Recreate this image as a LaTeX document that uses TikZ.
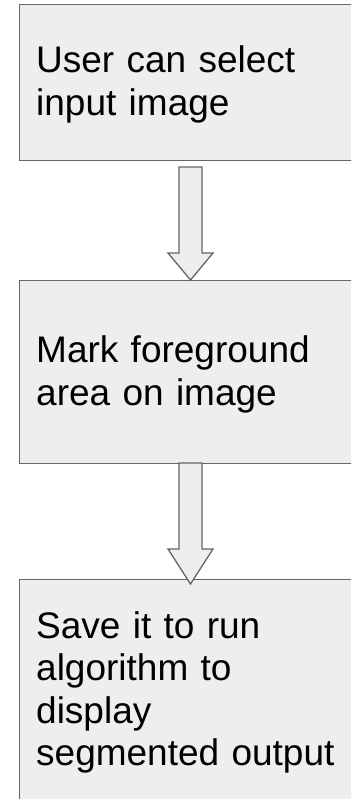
\documentclass[tikz,border=0pt]{standalone}
\usepackage{fontspec}
\setmainfont{Liberation Sans}
\usetikzlibrary{calc}
\definecolor{boxfill}{HTML}{EEEEEE}
\definecolor{boxline}{HTML}{666666}
\tikzset{
  box/.style={draw=boxline, fill=boxfill, line width=1.3pt, inner sep=0pt, anchor=north west, minimum width=343pt},
  label/.style={anchor=base west, inner sep=0pt, text width=310pt, align=left, font=\fontsize{37}{42.5}\selectfont},
  blockarrow/.style={draw=boxline, fill=boxfill, line width=1.3pt, line join=miter}
}
\begin{document}
\begin{tikzpicture}[x=1pt,y=-1pt]
\useasboundingbox (0,0) rectangle (351,799);
\clip (0,0) rectangle (351,799);
\fill[white] (0,0) rectangle (351,799);
% boxes
\node[box, minimum height=156pt] (b1) at (19,4) {};
\node[box, minimum height=183pt] (b2) at (19,280) {};
\node[box, minimum height=221pt] (b3) at (19,579) {};
% texts
\node[label] (t1) at (36,73) {User can select\\input image};
\node[label] (t2) at (36,362.5) {Mark foreground\\area on image};
\node[label] (t3) at (36,638) {Save it to run\\algorithm to\\display\\segmented output};
% block arrows
\coordinate (a1s) at (190.5,167);
\coordinate (a1t) at (190.5,280);
\coordinate (a2s) at (190.5,463);
\coordinate (a2t) at (190.5,584);
\draw[blockarrow] ($(a1s)+(-11.5,0)$) -- ($(a1s)+(11.5,0)$) -- ($(a1t)+(11.5,-27)$) -- ($(a1t)+(22.5,-27)$) -- (a1t) -- ($(a1t)+(-22.5,-27)$) -- ($(a1t)+(-11.5,-27)$) -- cycle;
\draw[blockarrow] ($(a2s)+(-11.5,0)$) -- ($(a2s)+(11.5,0)$) -- ($(a2t)+(11.5,-35)$) -- ($(a2t)+(22.5,-35)$) -- (a2t) -- ($(a2t)+(-22.5,-35)$) -- ($(a2t)+(-11.5,-35)$) -- cycle;
\end{tikzpicture}
\end{document}
